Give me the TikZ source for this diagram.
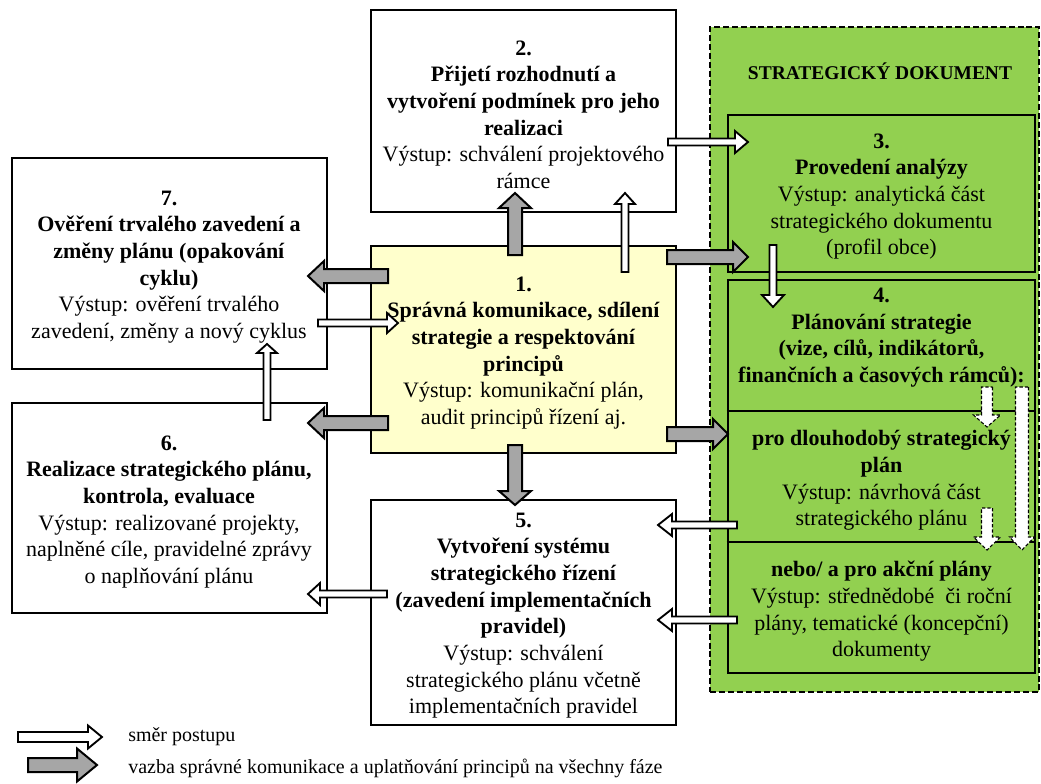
\documentclass[tikz,border=0pt]{standalone}
\usepackage{fontspec}
\setmainfont{Liberation Serif}
\usetikzlibrary{calc,fit}
\definecolor{docgreen}{HTML}{92D050}
\definecolor{paleyellow}{HTML}{FFFFCC}
\definecolor{arrgray}{HTML}{A6A6A6}
\newcommand\mainfnt{\fontsize{16.5}{20}\selectfont}
\newcommand\bl[1]{\textbf{#1}}
% block arrow: [style]{from}{to}{shaft width px}{head width px}{head length px}
\newcommand\blockarrow[6][]{%
  \path let \p1=(#2), \p2=(#3) in \pgfextra{%
    \pgfmathsetmacro\tmpang{atan2(\y2-\y1,\x2-\x1)}%
    \pgfmathsetmacro\tmplen{veclen(\x2-\x1,\y2-\y1)}%
    \xdef\myang{\tmpang}\xdef\mylen{\tmplen}\xdef\myx{\x1}\xdef\myy{\y1}};
  \draw[#1, shift={(\myx,\myy)}, rotate=\myang, line join=miter]
    (0pt,{#4*0.375pt}) -- ({\mylen pt-#6*0.75pt},{#4*0.375pt})
    -- ({\mylen pt-#6*0.75pt},{#5*0.375pt}) -- ({\mylen pt},0pt)
    -- ({\mylen pt-#6*0.75pt},{-#5*0.375pt}) -- ({\mylen pt-#6*0.75pt},{-#4*0.375pt})
    -- (0pt,{-#4*0.375pt}) -- cycle;
}
\begin{document}
\begin{tikzpicture}[x=0.75pt,y=-0.75pt,
  box/.style={draw=black, line width=2.2pt, inner sep=0pt},
  txt/.style={align=center, font=\mainfnt, inner sep=0pt},
  graya/.style={fill=arrgray, draw=black, line width=1.5pt},
  whitea/.style={fill=white, draw=black, line width=1.4pt},
  dasha/.style={fill=white, draw=black, line width=0.8pt, dash pattern=on 2.5pt off 1.5pt},
  legtxt/.style={anchor=west, inner sep=0pt, font=\fontsize{15}{18}\selectfont}]
\useasboundingbox (0,0) rectangle (1041,783);
\fill[white] (0,0) rectangle (1041,783);

% strategic document area
\node[fill=docgreen, draw=black, line width=1.7pt, dash pattern=on 4.5pt off 2.2pt,
  inner sep=0pt, fit={(710,27) (1039,692)}] (sd) {};
\node[inner sep=0pt, font=\fontsize{14.6}{17}\selectfont\bfseries] (sdt) at (880,71) {STRATEGICKÝ DOKUMENT};

% boxes
\node[box, fill=white, fit={(371,10) (676,212)}] (b2) {};
\node[box, fill=paleyellow, fit={(371,246) (676,453)}] (b1) {};
\node[box, fill=white, fit={(12,158) (327,369)}] (b7) {};
\node[box, fill=white, fit={(12,403) (327,613)}] (b6) {};
\node[box, fill=white, fit={(371,500) (676,725)}] (b5) {};
\node[box, fill=docgreen, fit={(728,115) (1035,272)}] (b3) {};
\node[box, fill=docgreen, fit={(728,280) (1035,673)}] (b4) {};
\draw[line width=1.8pt] (b4.west |- 0,411) -- (b4.east |- 0,411);
\draw[line width=1.8pt] (b4.west |- 0,542) -- (b4.east |- 0,542);

% texts
\node[txt] (t2) at (523.5,114.5) {\bl{2.}\\ \bl{Přijetí rozhodnutí a}\\ \bl{vytvoření podmínek pro jeho}\\ \bl{realizaci}\\ Výstup: schválení projektového\\ rámce};
\node[txt] (t1) at (523.5,353) {\bl{1.}\\ \bl{Správná komunikace, sdílení}\\ \bl{strategie a respektování}\\ \bl{principů}\\ Výstup: komunikační plán,\\ audit principů řízení aj.};
\node[txt] (t7) at (169,267) {\bl{7.}\\ \bl{Ověření trvalého zavedení a}\\ \bl{změny plánu (opakování}\\ \bl{cyklu)}\\ Výstup: ověření trvalého\\ zavedení, změny a nový cyklus};
\node[txt] (t6) at (169,512) {\bl{6.}\\ \bl{Realizace strategického plánu,}\\ \bl{kontrola, evaluace}\\ Výstup: realizované projekty,\\ naplněné cíle, pravidelné zprávy\\ o naplňování plánu};
\node[txt] (t5) at (523.5,615.5) {\bl{5.}\\ \bl{Vytvoření systému}\\ \bl{strategického řízení}\\ \bl{(zavedení implementačních}\\ \bl{pravidel)}\\ Výstup: schválení\\ strategického plánu včetně\\ implementačních pravidel};
\node[txt] (t3) at (881.5,196.5) {\bl{3.}\\ \bl{Provedení analýzy}\\ Výstup: analytická část\\ strategického dokumentu\\ (profil obce)};
\node[txt] (t4a) at (881.5,337.5) {\bl{4.}\\ \bl{Plánování strategie}\\ \bl{(vize, cílů, indikátorů,}\\ \bl{finančních a časových rámců):}};
\node[txt] (t4b) at (881.5,480.5) {\bl{pro dlouhodobý strategický}\\ \bl{plán}\\ Výstup: návrhová část\\ strategického plánu};
\node[txt] (t4c) at (881.5,611.5) {\bl{nebo/ a pro akční plány}\\ Výstup: střednědobé\ \ či roční\\ plány, tematické (koncepční)\\ dokumenty};

% arrow end points
\coordinate (g1s) at (515,255); \coordinate (g1e) at (515,193);
\coordinate (g2s) at (388,276); \coordinate (g2e) at (308,276);
\coordinate (g3s) at (388,423); \coordinate (g3e) at (308,423);
\coordinate (g4s) at (515,445); \coordinate (g4e) at (515,505);
\coordinate (g5s) at (667,257); \coordinate (g5e) at (748,257);
\coordinate (g6s) at (667,434); \coordinate (g6e) at (728,434);
\coordinate (w1s) at (625,272); \coordinate (w1e) at (625,193);
\coordinate (w2s) at (668,142); \coordinate (w2e) at (748,142);
\coordinate (w3s) at (773,245); \coordinate (w3e) at (773,307);
\coordinate (w4s) at (318,323); \coordinate (w4e) at (398,323);
\coordinate (w5s) at (267,420); \coordinate (w5e) at (267,344);
\coordinate (w6s) at (387,594); \coordinate (w6e) at (308,594);
\coordinate (w7s) at (737,525); \coordinate (w7e) at (658,525);
\coordinate (w8s) at (737,620); \coordinate (w8e) at (658,620);
\coordinate (d1s) at (987,387); \coordinate (d1e) at (987,427);
\coordinate (d2s) at (987,508); \coordinate (d2e) at (987,550);
\coordinate (d3s) at (1022,387); \coordinate (d3e) at (1022,550);
\coordinate (l1s) at (18,737); \coordinate (l1e) at (102,737);
\coordinate (l2s) at (28,765); \coordinate (l2e) at (97,765);

% gray arrows
\blockarrow[graya]{g1s}{g1e}{14}{32}{15}
\blockarrow[graya]{g2s}{g2e}{14}{30}{16}
\blockarrow[graya]{g3s}{g3e}{14}{30}{16}
\blockarrow[graya]{g4s}{g4e}{14}{32}{14}
\blockarrow[graya]{g5s}{g5e}{14}{30}{15}
\blockarrow[graya]{g6s}{g6e}{14}{30}{15}
% white arrows
\blockarrow[whitea]{w1s}{w1e}{7}{20}{11}
\blockarrow[whitea]{w2s}{w2e}{7}{22}{13}
\blockarrow[whitea]{w3s}{w3e}{7}{22}{12}
\blockarrow[whitea]{w4s}{w4e}{7}{20}{11}
\blockarrow[whitea]{w5s}{w5e}{7}{20}{9}
\blockarrow[whitea]{w6s}{w6e}{7}{22}{12}
\blockarrow[whitea]{w7s}{w7e}{7}{22}{14}
\blockarrow[whitea]{w8s}{w8e}{7}{22}{14}
% dashed arrows
\blockarrow[dasha]{d1s}{d1e}{11}{27}{12}
\blockarrow[dasha]{d2s}{d2e}{11}{27}{13}
\blockarrow[dasha]{d3s}{d3e}{13}{25}{13}

% legend
\blockarrow[whitea]{l1s}{l1e}{10}{23}{14}
\blockarrow[graya]{l2s}{l2e}{14}{33}{20}
\node[legtxt] (lt1) at (128,737) {směr postupu};
\node[legtxt] (lt2) at (128,768) {vazba správné komunikace a uplatňování principů na všechny fáze};
\end{tikzpicture}
\end{document}
